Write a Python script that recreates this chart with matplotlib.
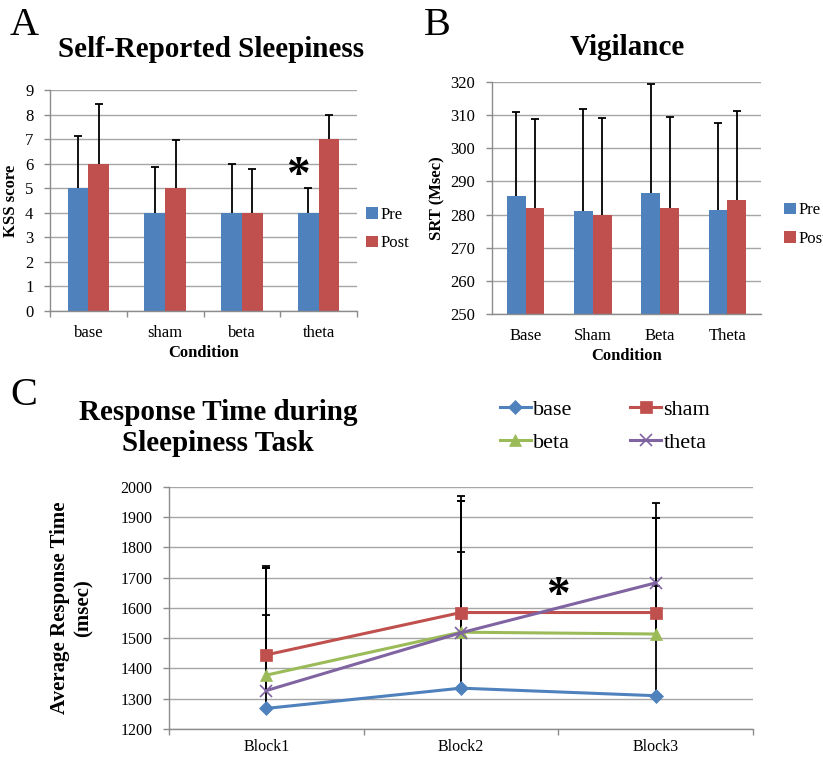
import numpy as np
import matplotlib
matplotlib.use('Agg')
import matplotlib.pyplot as plt

plt.rcParams['font.family'] = ['Liberation Serif', 'DejaVu Serif']

blue = '#4F81BD'
red = '#C0504D'
green = '#9BBB59'
purple = '#8064A2'
gridc = '#a6a6a6'

# Panel A: self-reported sleepiness (KSS)
kss_conditions = ['base', 'sham', 'beta', 'theta']
kss_pre = [5, 4, 4, 4]
kss_post = [6, 5, 4, 7]
kss_pre_sd = [2.13, 1.85, 2.0, 1.02]
kss_post_sd = [2.42, 1.95, 1.8, 1.0]

# Panel B: vigilance (SRT)
srt_conditions = ['Base', 'Sham', 'Beta', 'Theta']
srt_pre = [285.6, 281.0, 286.5, 281.3]
srt_post = [282.0, 280.0, 282.0, 284.5]
srt_pre_sd = [25.2, 30.9, 33.0, 26.2]
srt_post_sd = [26.7, 29.0, 27.3, 26.7]

# Panel C: response time during sleepiness task
blocks = ['Block1', 'Block2', 'Block3']
rt_base = [1268, 1335, 1310]
rt_sham = [1445, 1585, 1585]
rt_beta = [1378, 1520, 1514]
rt_theta = [1327, 1518, 1683]
rt_base_top = [1577, 1786, 1674]
rt_sham_top = [1739, 1970, 1948]
rt_beta_top = [1731, 1955, 1898]
rt_theta_top = [1731, 1955, 1898]

fig = plt.figure(figsize=(8.23, 7.57), dpi=100)


def style_axes(ax):
    for s in ['top', 'right']:
        ax.spines[s].set_visible(False)
    for s in ['left', 'bottom']:
        ax.spines[s].set_color('#8c8c8c')
        ax.spines[s].set_linewidth(1.0)
    ax.yaxis.grid(True, color=gridc, linewidth=1.0)
    ax.set_axisbelow(True)
    ax.tick_params(axis='both', colors='#8c8c8c', labelcolor='black', length=4, width=1.0)


def up_errors(ax, x, vals, err, z=2):
    # upward-only error bars, cap only on top
    _, caps, _ = ax.errorbar(x, vals, yerr=[np.zeros(len(vals)), err], fmt='none',
                             ecolor='black', elinewidth=1.3, capsize=3, capthick=1.3, zorder=z)
    caps[0].set_visible(False)


def bar_pair(ax, cats, pre, post, pre_sd, post_sd, w, base):
    x = np.arange(len(cats))
    ax.bar(x - w / 2, np.array(pre) - base, w, bottom=base, color=blue, label='Pre', zorder=2)
    ax.bar(x + w / 2, np.array(post) - base, w, bottom=base, color=red, label='Post', zorder=2)
    up_errors(ax, x - w / 2, pre, pre_sd, 3)
    up_errors(ax, x + w / 2, post, post_sd, 3)
    ax.set_xlim(-0.5, len(cats) - 0.5)
    style_axes(ax)
    ax.tick_params(axis='y', labelsize=12, pad=8)
    ax.set_xlabel('Condition', fontsize=12, fontweight='bold', labelpad=3)
    return x


leg_kw = dict(frameon=False, fontsize=12, handlelength=0.7, handleheight=0.7,
              handletextpad=0.15, labelspacing=0.75, borderaxespad=0, borderpad=0)

# ---- A ----
axA = fig.add_axes([0.0608, 0.5892, 0.373, 0.2919])
x = bar_pair(axA, kss_conditions, kss_pre, kss_post, kss_pre_sd, kss_post_sd, 0.27, 0)
axA.set_ylim(0, 9)
axA.set_yticks(range(0, 10))
axA.set_xticks(np.arange(len(kss_conditions) + 1) - 0.5)
axA.set_xticklabels([])
axA.set_xticks(x, minor=True)
axA.set_xticklabels(kss_conditions, minor=True)
axA.tick_params(axis='x', which='minor', length=0, pad=10, labelsize=12)
axA.set_ylabel('KSS score', fontsize=12, fontweight='bold', labelpad=4)
axA.legend(loc='center left', bbox_to_anchor=(1.03, 0.37), **leg_kw)
axA.text(3 - 0.27, 5.45, '*', fontsize=34, fontweight='bold', ha='center', va='center')
fig.text(0.256, 0.935, 'Self-Reported Sleepiness', fontsize=21, fontweight='bold', ha='center', va='center')
fig.text(0.012, 0.966, 'A', fontsize=29, ha='left', va='center')

# ---- B ----
axB = fig.add_axes([0.5978, 0.5852, 0.3269, 0.3065])
x = bar_pair(axB, srt_conditions, srt_pre, srt_post, srt_pre_sd, srt_post_sd, 0.28, 250)
axB.set_ylim(250, 320)
axB.set_yticks(range(250, 321, 10))
axB.set_xticks(x)
axB.set_xticklabels(srt_conditions)
axB.tick_params(axis='x', length=0, pad=10, labelsize=12)
axB.set_ylabel('SRT (Msec)', fontsize=12, fontweight='bold', labelpad=4)
axB.legend(loc='center left', bbox_to_anchor=(1.085, 0.385), **leg_kw)
fig.text(0.762, 0.937, 'Vigilance', fontsize=21, fontweight='bold', ha='center', va='center')
fig.text(0.515, 0.966, 'B', fontsize=29, ha='left', va='center')

# ---- C ----
axC = fig.add_axes([0.2053, 0.0370, 0.7096, 0.3197])
xc = np.arange(len(blocks)) + 0.5
series = [
    ('base', rt_base, rt_base_top, blue, 'D', 7),
    ('sham', rt_sham, rt_sham_top, red, 's', 8),
    ('beta', rt_beta, rt_beta_top, green, '^', 8.5),
    ('theta', rt_theta, rt_theta_top, purple, 'x', 8),
]
for name, vals, tops, col, mk, ms in series:
    up_errors(axC, xc, vals, np.array(tops) - np.array(vals), 2)
handles = {}
for name, vals, tops, col, mk, ms in series:
    h, = axC.plot(xc, vals, color=col, marker=mk, markersize=ms, linewidth=2.2,
                  markeredgewidth=1.2 if mk == 'x' else 0.5, label=name, zorder=3)
    handles[name] = h
axC.set_xlim(0, 3)
axC.set_ylim(1200, 2000)
axC.set_yticks(range(1200, 2001, 100))
style_axes(axC)
axC.set_xticks([0, 1, 2, 3])
axC.set_xticklabels([])
axC.set_xticks(xc, minor=True)
axC.set_xticklabels(blocks, minor=True)
axC.tick_params(axis='x', which='minor', length=0, pad=7, labelsize=11.5)
axC.tick_params(axis='y', labelsize=11.5, pad=8)
axC.set_ylabel('Average Response Time\n(msec)', fontsize=15, fontweight='bold', labelpad=19,
               linespacing=1.25)
axC.text(2.0, 1635, '*', fontsize=34, fontweight='bold', ha='center', va='center')
# column-major fill: rows read base/sham, beta/theta
order = ['base', 'beta', 'sham', 'theta']
fig.legend(handles=[handles[k] for k in order], labels=order, loc='center',
           bbox_to_anchor=(0.735, 0.437), ncol=2, frameon=False,
           fontsize=16, handlelength=1.4, handletextpad=0.1, columnspacing=2.6, labelspacing=0.55,
           borderpad=0)
fig.text(0.265, 0.4346, 'Response Time during\nSleepiness Task', fontsize=21, fontweight='bold',
         ha='center', va='center', linespacing=1.2)
fig.text(0.012, 0.478, 'C', fontsize=29, ha='left', va='center')

fig.savefig('out.png', dpi=100)
